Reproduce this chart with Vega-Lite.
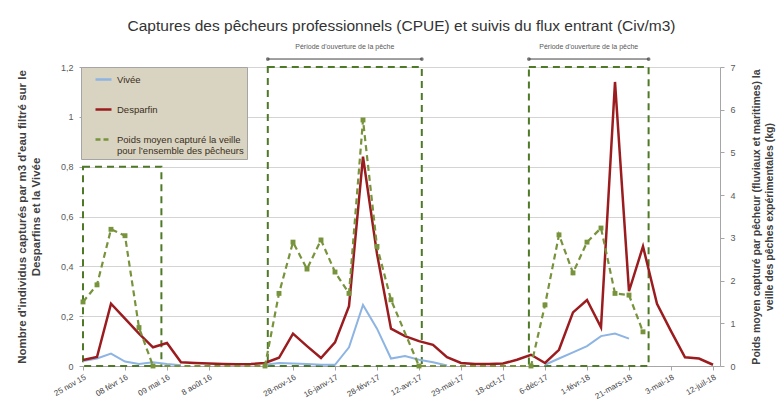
{
  "$schema": "https://vega.github.io/schema/vega-lite/v6.json",
  "width": 637,
  "height": 299,
  "autosize": {"type": "none"},
  "padding": {"left": 83, "top": 67, "right": 58, "bottom": 39},
  "background": "white",
  "title": {
    "text": "Captures des pêcheurs professionnels (CPUE) et suivis du flux entrant (Civ/m3)",
    "font": "Liberation Sans",
    "fontSize": 15.5,
    "fontWeight": "normal",
    "color": "#333333",
    "anchor": "middle",
    "offset": 9
  },
  "config": {
    "font": "Liberation Sans",
    "view": {"stroke": null},
    "axis": {
      "labelFont": "Liberation Sans",
      "labelFontSize": 9,
      "labelColor": "#595959",
      "titleFont": "Liberation Sans",
      "titleFontSize": 10.5,
      "titleFontWeight": "bold",
      "titleColor": "#404040",
      "domainColor": "#a6a6a6",
      "tickColor": "#a6a6a6",
      "gridColor": "#d4d4d4"
    }
  },
  "datasets": {
    "releves": [
      {"n": 0, "vivee": 0.02, "desparfin": 0.024, "poids": 1.5},
      {"n": 1, "vivee": 0.03, "desparfin": 0.036, "poids": 1.9},
      {"n": 2, "vivee": 0.05, "desparfin": 0.25, "poids": 3.2},
      {"n": 3, "vivee": 0.018, "desparfin": 0.19, "poids": 3.05},
      {"n": 4, "vivee": 0.008, "desparfin": 0.13, "poids": 0.9},
      {"n": 5, "vivee": 0.015, "desparfin": 0.075, "poids": 0},
      {"n": 6, "vivee": 0.008, "desparfin": 0.092, "poids": null},
      {"n": 7, "vivee": 0.003, "desparfin": 0.015, "poids": null},
      {"n": 8, "vivee": null, "desparfin": 0.012, "poids": null},
      {"n": 9, "vivee": null, "desparfin": 0.01, "poids": null},
      {"n": 10, "vivee": null, "desparfin": 0.008, "poids": null},
      {"n": 11, "vivee": null, "desparfin": 0.007, "poids": null},
      {"n": 12, "vivee": null, "desparfin": 0.008, "poids": null},
      {"n": 13, "vivee": 0.005, "desparfin": 0.012, "poids": 0},
      {"n": 14, "vivee": 0.012, "desparfin": 0.033, "poids": 1.7},
      {"n": 15, "vivee": 0.01, "desparfin": 0.13, "poids": 2.9},
      {"n": 16, "vivee": 0.008, "desparfin": 0.08, "poids": 2.27},
      {"n": 17, "vivee": 0.005, "desparfin": 0.032, "poids": 2.95},
      {"n": 18, "vivee": 0.005, "desparfin": 0.095, "poids": 2.2},
      {"n": 19, "vivee": 0.075, "desparfin": 0.24, "poids": 1.7},
      {"n": 20, "vivee": 0.245, "desparfin": 0.84, "poids": 5.76},
      {"n": 21, "vivee": 0.15, "desparfin": 0.45, "poids": 2.8},
      {"n": 22, "vivee": 0.03, "desparfin": 0.15, "poids": 1.55},
      {"n": 23, "vivee": 0.04, "desparfin": 0.12, "poids": null},
      {"n": 24, "vivee": 0.025, "desparfin": 0.1, "poids": 0},
      {"n": 25, "vivee": 0.015, "desparfin": 0.085, "poids": null},
      {"n": 26, "vivee": 0.002, "desparfin": 0.035, "poids": null},
      {"n": 27, "vivee": null, "desparfin": 0.012, "poids": null},
      {"n": 28, "vivee": null, "desparfin": 0.008, "poids": null},
      {"n": 29, "vivee": null, "desparfin": 0.008, "poids": null},
      {"n": 30, "vivee": null, "desparfin": 0.01, "poids": null},
      {"n": 31, "vivee": null, "desparfin": 0.025, "poids": null},
      {"n": 32, "vivee": null, "desparfin": 0.045, "poids": 0},
      {"n": 33, "vivee": 0.005, "desparfin": 0.012, "poids": 1.43},
      {"n": 34, "vivee": 0.03, "desparfin": 0.065, "poids": 3.07},
      {"n": 35, "vivee": 0.055, "desparfin": 0.215, "poids": 2.18},
      {"n": 36, "vivee": 0.08, "desparfin": 0.265, "poids": 2.9},
      {"n": 37, "vivee": 0.12, "desparfin": 0.155, "poids": 3.23},
      {"n": 38, "vivee": 0.13, "desparfin": 1.14, "poids": 1.7},
      {"n": 39, "vivee": 0.11, "desparfin": 0.3, "poids": 1.66},
      {"n": 40, "vivee": null, "desparfin": 0.48, "poids": 0.8},
      {"n": 41, "vivee": null, "desparfin": 0.25, "poids": null},
      {"n": 42, "vivee": null, "desparfin": 0.14, "poids": null},
      {"n": 43, "vivee": null, "desparfin": 0.035, "poids": null},
      {"n": 44, "vivee": null, "desparfin": 0.03, "poids": null},
      {"n": 45, "vivee": null, "desparfin": 0.005, "poids": null}
    ],
    "periodes": [
      {"debut": 0, "fin": 5.6, "bas": 0, "haut": 0.8, "etiquette": ""},
      {"debut": 13.2, "fin": 24.2, "bas": 0, "haut": 1.2, "etiquette": "Période d'ouverture de la pêche"},
      {"debut": 31.85, "fin": 40.4, "bas": 0, "haut": 1.2, "etiquette": "Période d'ouverture de la pêche"}
    ]
  },
  "layer": [
    {
      "layer": [
        {
          "data": {"name": "periodes"},
          "mark": {"type": "rect", "filled": false, "stroke": "#4e7a27", "strokeWidth": 2, "strokeDash": [7, 5]},
          "encoding": {
            "x": {
              "field": "debut",
              "type": "quantitative",
              "title": null,
              "scale": {"domain": [0, 45.5], "nice": false, "zero": false},
              "axis": {
                "values": [0, 3, 6, 9, 15, 18, 21, 24, 27, 30, 33, 36, 39, 42, 45],
                "labelExpr": "['25 nov 15','08 févr 16','09 mai 16','8 août 16','','28-nov-16','16-janv-17','28-févr-17','12-avr-17','29-mai-17','18-oct-17','6-déc-17','1-févr-18','21-mars-18','3-mai-18','12-juil-18'][round(datum.value / 3)]",
                "labelAngle": -30,
                "labelFontSize": 8,
                "labelColor": "#404040",
                "labelPadding": 3,
                "labelOverlap": false,
                "labelBound": false,
                "grid": false,
                "tickSize": 4
              }
            },
            "x2": {"field": "fin"},
            "y": {
              "field": "bas",
              "type": "quantitative",
              "title": ["Nombre d'individus capturés par m3 d'eau filtré sur le", "Desparfins et la Vivée"],
              "scale": {"domain": [0, 1.2], "nice": false},
              "axis": {
                "values": [0, 0.2, 0.4, 0.6, 0.8, 1, 1.2],
                "labelExpr": "replace(format(datum.value, '.1~f'), '.', ',')",
                "grid": true,
                "domain": false,
                "tickSize": 4,
                "labelPadding": 6,
                "titleFontSize": 11.5,
                "titlePadding": 19
              }
            },
            "y2": {"field": "haut"}
          }
        },
        {
          "data": {"name": "releves"},
          "mark": {"type": "line", "strokeWidth": 2, "invalid": "break-paths-show-domains"},
          "encoding": {
            "x": {"field": "n", "type": "quantitative", "title": null, "scale": {"domain": [0, 45.5], "nice": false, "zero": false}},
            "y": {"field": "vivee", "type": "quantitative", "title": ["Nombre d'individus capturés par m3 d'eau filtré sur le", "Desparfins et la Vivée"], "scale": {"domain": [0, 1.2], "nice": false}},
            "color": {
              "datum": "Vivée",
              "type": "nominal",
              "scale": {
                "domain": ["Vivée", "Desparfin", "Poids moyen capturé la veille pour l’ensemble des pêcheurs"],
                "range": ["#8db4e2", "#9b1c1f", "#77933c"]
              },
              "legend": {
                "title": null,
                "orient": "none",
                "legendX": -2,
                "legendY": 0,
                "direction": "vertical",
                "gridAlign": "none",
                "fillColor": "#d9d4c2",
                "strokeColor": "#a5a5a5",
                "padding": 3,
                "symbolOffset": 10,
                "symbolType": "stroke",
                "symbolSize": 256,
                "symbolStrokeWidth": 2.5,
                "labelFontSize": 9.5,
                "labelColor": "#3a2e20",
                "labelOffset": 4,
                "labelLimit": 300,
                "rowPadding": 15,
                "labelExpr": "datum.value == 'Vivée' || datum.value == 'Desparfin' ? datum.label : ['Poids moyen capturé la veille', 'pour l’ensemble des pêcheurs']",
                "encode": {
                  "symbols": {
                    "update": {
                      "strokeDash": {"signal": "datum.value == 'Vivée' || datum.value == 'Desparfin' ? [1, 0] : [5, 3]"}
                    }
                  }
                }
              }
            }
          }
        },
        {
          "data": {"name": "releves"},
          "mark": {"type": "line", "strokeWidth": 2.5},
          "encoding": {
            "x": {"field": "n", "type": "quantitative", "title": null, "scale": {"domain": [0, 45.5], "nice": false, "zero": false}},
            "y": {"field": "desparfin", "type": "quantitative", "title": ["Nombre d'individus capturés par m3 d'eau filtré sur le", "Desparfins et la Vivée"], "scale": {"domain": [0, 1.2], "nice": false}},
            "color": {"datum": "Desparfin", "type": "nominal"}
          }
        },
        {
          "data": {"name": "periodes"},
          "transform": [{"filter": "datum.etiquette != ''"}],
          "mark": {"type": "rule", "color": "#404040", "strokeWidth": 1},
          "encoding": {
            "x": {"field": "debut", "type": "quantitative", "title": null, "scale": {"domain": [0, 45.5], "nice": false, "zero": false}},
            "x2": {"field": "fin"},
            "y": {"datum": 1.232, "type": "quantitative", "title": ["Nombre d'individus capturés par m3 d'eau filtré sur le", "Desparfins et la Vivée"], "scale": {"domain": [0, 1.2], "nice": false}}
          }
        },
        {
          "data": {"name": "periodes"},
          "transform": [{"filter": "datum.etiquette != ''"}],
          "mark": {"type": "point", "shape": "circle", "filled": true, "size": 14, "color": "#404040"},
          "encoding": {
            "x": {"field": "debut", "type": "quantitative", "title": null, "scale": {"domain": [0, 45.5], "nice": false, "zero": false}},
            "y": {"datum": 1.232, "type": "quantitative", "title": ["Nombre d'individus capturés par m3 d'eau filtré sur le", "Desparfins et la Vivée"], "scale": {"domain": [0, 1.2], "nice": false}}
          }
        },
        {
          "data": {"name": "periodes"},
          "transform": [{"filter": "datum.etiquette != ''"}],
          "mark": {"type": "point", "shape": "circle", "filled": true, "size": 14, "color": "#404040"},
          "encoding": {
            "x": {"field": "fin", "type": "quantitative", "title": null, "scale": {"domain": [0, 45.5], "nice": false, "zero": false}},
            "y": {"datum": 1.232, "type": "quantitative", "title": ["Nombre d'individus capturés par m3 d'eau filtré sur le", "Desparfins et la Vivée"], "scale": {"domain": [0, 1.2], "nice": false}}
          }
        },
        {
          "data": {"name": "periodes"},
          "transform": [
            {"filter": "datum.etiquette != ''"},
            {"calculate": "(datum.debut + datum.fin) / 2", "as": "milieu"}
          ],
          "mark": {"type": "text", "fontSize": 7, "color": "#595959", "align": "center", "baseline": "middle"},
          "encoding": {
            "x": {"field": "milieu", "type": "quantitative", "title": null, "scale": {"domain": [0, 45.5], "nice": false, "zero": false}},
            "y": {"datum": 1.28, "type": "quantitative", "title": ["Nombre d'individus capturés par m3 d'eau filtré sur le", "Desparfins et la Vivée"], "scale": {"domain": [0, 1.2], "nice": false}},
            "text": {"field": "etiquette"}
          }
        }
      ]
    },
    {
      "data": {"name": "releves"},
      "encoding": {
        "x": {"field": "n", "type": "quantitative", "title": null, "scale": {"domain": [0, 45.5], "nice": false, "zero": false}},
        "y": {
          "field": "poids",
          "type": "quantitative",
          "title": ["Poids moyen capturé par pêcheur (fluviaux et maritimes) la", "veille des pêches expérimentales (kg)"],
          "scale": {"domain": [0, 7], "nice": false},
          "axis": {
            "orient": "right",
            "values": [0, 1, 2, 3, 4, 5, 6, 7],
            "grid": false,
            "tickSize": 4,
            "labelPadding": 6,
            "titleAngle": -90,
            "titleFontSize": 10.5,
            "titlePadding": 14
          }
        },
        "color": {"datum": "Poids moyen capturé la veille pour l’ensemble des pêcheurs", "type": "nominal"}
      },
      "layer": [
        {"mark": {"type": "line", "strokeWidth": 2.2, "strokeDash": [6, 4], "invalid": "filter"}},
        {"mark": {"type": "point", "shape": "square", "filled": true, "size": 24, "opacity": 1, "invalid": "filter"}}
      ]
    }
  ],
  "resolve": {"scale": {"y": "independent"}}
}
